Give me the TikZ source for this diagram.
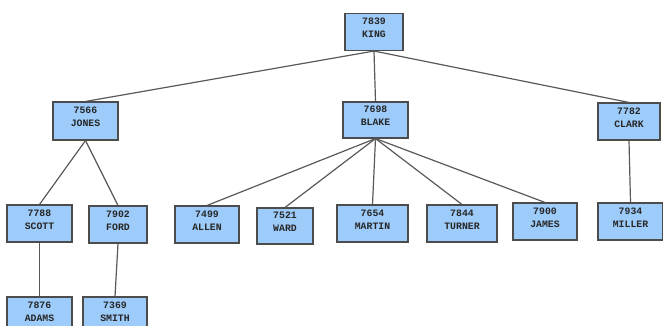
\documentclass[tikz,border=0pt]{standalone}
\usepackage{fontspec}
\setmonofont{Liberation Mono}
\begin{document}
\begin{tikzpicture}[x=1pt,y=-1pt,
  emp/.style={draw=black!70, line width=1.1pt, fill=empfill, rectangle,
    align=center, inner sep=0pt, minimum height=37pt, text depth=8.5pt,
    font=\ttfamily\bfseries\fontsize{9.8}{13}\selectfont, text=black!85},
  link/.style={draw=black!65, line width=1.2pt}]
\definecolor{empfill}{HTML}{9DCBFA}
\useasboundingbox (0,0) rectangle (663,325);
\clip (0,0) rectangle (663,325);
\path
  (374,32) node[emp, minimum width=58pt] (king) {7839\\KING}
  (85.5,121) node[emp, minimum width=65pt, minimum height=38pt] (jones) {7566\\JONES}
  (375.5,120) node[emp, minimum width=65pt, minimum height=36pt] (blake) {7698\\BLAKE}
  (629,121.5) node[emp, minimum width=62pt] (clark) {7782\\CLARK}
  (39.5,223.5) node[emp, minimum width=65pt] (scott) {7788\\SCOTT}
  (118,224.5) node[emp, minimum width=58pt] (ford) {7902\\FORD}
  (207,224.5) node[emp, minimum width=64pt] (allen) {7499\\ALLEN}
  (285,226) node[emp, minimum width=56pt, minimum height=36pt] (ward) {7521\\WARD}
  (372.5,223.5) node[emp, minimum width=71pt] (martin) {7654\\MARTIN}
  (462,223.5) node[emp, minimum width=70pt] (turner) {7844\\TURNER}
  (545,221.5) node[emp, minimum width=64pt] (james) {7900\\JAMES}
  (630.5,221.5) node[emp, minimum width=65pt] (miller) {7934\\MILLER}
  (39.5,316) node[emp, minimum width=65pt, minimum height=38pt] (adams) {7876\\ADAMS}
  (115,316) node[emp, minimum width=64pt, minimum height=38pt] (smith) {7369\\SMITH};
\draw[link] (king.south) -- (jones.north);
\draw[link] (king.south) -- (blake.north);
\draw[link] (king.south) -- (clark.north);
\draw[link] (jones.south) -- (scott.north);
\draw[link] (jones.south) -- (ford.north);
\draw[link] (blake.south) -- (allen.north);
\draw[link] (blake.south) -- (ward.north);
\draw[link] (blake.south) -- (martin.north);
\draw[link] (blake.south) -- (turner.north);
\draw[link] (blake.south) -- (james.north);
\draw[link] (clark.south) -- (miller.north);
\draw[link] (scott.south) -- (adams.north);
\draw[link] (ford.south) -- (smith.north);
\end{tikzpicture}
\end{document}
